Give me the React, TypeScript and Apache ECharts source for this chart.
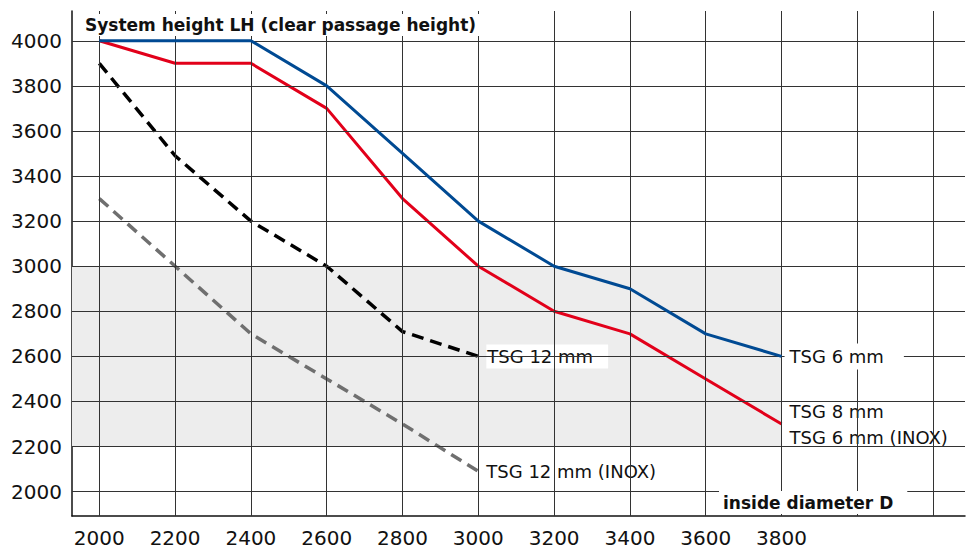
import React, { useEffect, useRef } from "react";
import * as echarts from "echarts";

const diameters = [2000, 2200, 2400, 2600, 2800, 3000, 3200, 3400, 3600, 3800];
const tsg6 = [4000, 4000, 4000, 3800, 3500, 3200, 3000, 2900, 2700, 2600];
const tsg8 = [4000, 3900, 3900, 3700, 3300, 3000, 2800, 2700, 2500, 2300];
const tsg12Diameters = [2000, 2200, 2400, 2600, 2800, 3000];
const tsg12 = [3900, 3490, 3200, 3000, 2710, 2600];
const tsg12Inox = [3300, 3000, 2700, 2500, 2300, 2090];

const xTickLabels = [2000, 2200, 2400, 2600, 2800, 3000, 3200, 3400, 3600, 3800];
const yTickLabels = [2000, 2200, 2400, 2600, 2800, 3000, 3200, 3400, 3600, 3800, 4000];
const xGridValues = [2000, 2200, 2400, 2600, 2800, 3000, 3200, 3400, 3600, 3800, 4000, 4200];
const yGridValues = yTickLabels;
const bandLow = 2200;
const bandHigh = 3000;
const bandEnd = 3800;

const X_MIN = 1928;
const X_MAX = 4284;
const Y_MIN = 1892;
const Y_MAX = 4132;

const seriesNames = {
  tsg6: "TSG 6 mm",
  tsg8: "TSG 8 mm\nTSG 6 mm (INOX)",
  tsg12: "TSG 12 mm",
  tsg12Inox: "TSG 12 mm (INOX)",
};

const FONT = "DejaVu Sans";

function zip(xs: number[], ys: number[]) {
  return ys.map((y, i) => [xs[i], y]);
}

function endLabel(text: string, extra: any = {}) {
  return {
    show: true,
    formatter: text,
    color: "#111",
    fontFamily: FONT,
    fontSize: 18,
    backgroundColor: "#fff",
    distance: 3,
    padding: [4, 18, 4, 5],
    ...extra,
  };
}

export default function App() {
  const ref = useRef<HTMLDivElement>(null);
  useEffect(() => {
    if (!ref.current) return;
    const chart = echarts.init(ref.current, null, { renderer: "svg" });
    const gridLineStyle = { color: "#333", width: 1, type: "solid" as const };
    chart.setOption({
      animation: false,
      backgroundColor: "#fff",
      title: [
        {
          text: "System height LH (clear passage height)",
          left: 80,
          top: 14,
          padding: [2, 5, 3, 5],
          backgroundColor: "#fff",
          textStyle: { fontFamily: FONT, fontSize: 17, fontWeight: "bold", color: "#111" },
          z: 20,
        },
        {
          text: "inside diameter D",
          left: 719,
          top: 491,
          padding: [3, 14, 3, 4],
          backgroundColor: "#fff",
          textStyle: { fontFamily: FONT, fontSize: 17, fontWeight: "bold", color: "#111" },
          z: 20,
        },
      ],
      grid: { left: 72, right: 5, top: 11, bottom: 33, containLabel: false },
      xAxis: {
        type: "value",
        min: X_MIN,
        max: X_MAX,
        splitLine: { show: false },
        axisTick: { show: false },
        axisLine: { show: true, lineStyle: { color: "#111", width: 1.5 } },
        axisLabel: {
          customValues: xTickLabels,
          formatter: (v: number) => String(v),
          fontFamily: FONT,
          fontSize: 20,
          color: "#111",
          margin: 12,
        },
      },
      yAxis: {
        type: "value",
        min: Y_MIN,
        max: Y_MAX,
        splitLine: { show: false },
        axisTick: { show: false },
        axisLine: { show: true, lineStyle: { color: "#111", width: 1.5 } },
        axisLabel: {
          customValues: yTickLabels,
          formatter: (v: number) => String(v),
          fontFamily: FONT,
          fontSize: 20,
          color: "#111",
          margin: 10,
        },
      },
      series: [
        {
          type: "line",
          data: [],
          z: 0,
          silent: true,
          markArea: {
            silent: true,
            itemStyle: { color: "#ededed" },
            data: [[{ coord: [X_MIN, bandLow] }, { coord: [bandEnd, bandHigh] }]],
          },
        },
        {
          type: "line",
          data: [],
          z: 1,
          silent: true,
          markLine: {
            silent: true,
            symbol: "none",
            label: { show: false },
            lineStyle: gridLineStyle,
            data: [
              ...xGridValues.map((v) => ({ xAxis: v })),
              ...yGridValues.map((v) => ({ yAxis: v })),
            ],
          },
        },
        {
          name: seriesNames.tsg12Inox,
          type: "line",
          data: zip(tsg12Diameters, tsg12Inox),
          showSymbol: false,
          z: 3,
          lineStyle: { color: "#6f6f6f", width: 3.5, type: [12, 7] },
          endLabel: endLabel(seriesNames.tsg12Inox, { backgroundColor: "transparent", distance: 8, padding: [0, 0, 0, 0] }),
        },
        {
          name: seriesNames.tsg12,
          type: "line",
          data: zip(tsg12Diameters, tsg12),
          showSymbol: false,
          z: 3,
          lineStyle: { color: "#000", width: 3.5, type: [12, 7] },
          endLabel: endLabel(seriesNames.tsg12, { distance: 8, padding: [3, 15, 3, 1] }),
        },
        {
          name: seriesNames.tsg8,
          type: "line",
          data: zip(diameters, tsg8),
          showSymbol: false,
          z: 4,
          lineStyle: { color: "#e2001a", width: 3 },
          endLabel: endLabel(seriesNames.tsg8, { lineHeight: 26, padding: [2, 4, 2, 5] }),
        },
        {
          name: seriesNames.tsg6,
          type: "line",
          data: zip(diameters, tsg6),
          showSymbol: false,
          z: 5,
          lineStyle: { color: "#004a93", width: 3 },
          endLabel: endLabel(seriesNames.tsg6, { padding: [4, 20, 4, 5] }),
        },
      ],
    });
    return () => chart.dispose();
  }, []);
  return (
    <div
      ref={ref}
      style={{ position: "fixed", left: 0, top: 0, width: 970, height: 549, background: "#fff" }}
    />
  );
}
